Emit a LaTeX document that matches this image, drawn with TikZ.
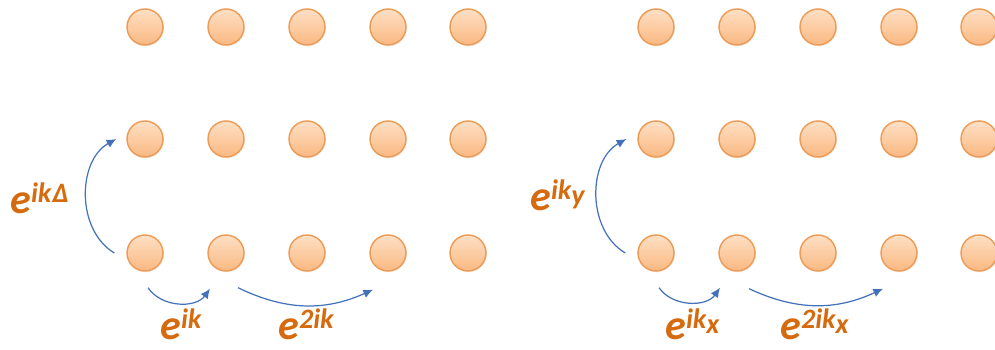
\documentclass[tikz,border=0pt]{standalone}
\usepackage{fontspec}
\setmainfont{Carlito}
\usetikzlibrary{arrows.meta, positioning, shadows}
\definecolor{dottop}{RGB}{254,224,196}
\definecolor{dotbottom}{RGB}{250,184,130}
\definecolor{dotedge}{RGB}{236,154,84}
\definecolor{hopblue}{RGB}{68,114,186}
\definecolor{phasecol}{RGB}{214,106,14}
\newcommand{\phs}[1]{e\raisebox{5.8pt}{\fontsize{16}{16}\selectfont #1}}
\newcommand{\lowsub}[1]{\raisebox{-2.5pt}{#1}}
\tikzset{
  site/.style  = {circle, draw=dotedge, line width=0.8pt, top color=dottop,
                  bottom color=dotbottom, minimum size=0.72cm, inner sep=0pt,
                  drop shadow={opacity=0.12, shadow xshift=0.6pt, shadow yshift=-0.8pt}},
  hop/.style   = {-{Latex[length=5.5pt, width=5pt]}, line width=0.7pt, color=hopblue},
  phase/.style = {font=\fontsize{24}{24}\selectfont\bfseries\itshape, color=phasecol,
                  anchor=base west, inner sep=0pt},
}

\begin{document}
\begin{tikzpicture}[x=0.02cm, y=0.02cm]
  \useasboundingbox (0,0) rectangle (995,349);
  % two lattices of sites
  \foreach \r/\y in {1/322, 2/210, 3/96} {
    \foreach \c/\x in {1/145, 2/226, 3/307, 4/388, 5/468} {
      \node[site] (L-\r-\c) at (\x,\y) {};
      \node[site] (R-\r-\c) at (\x+511,\y) {};
    }
  }
  % hops, left lattice
  \draw[hop] ([shift={(-12,0)}]L-3-1.west) to[bend left=60] ([shift={(-10,0)}]L-2-1.west);
  \draw[hop] ([shift={(3,-16)}]L-3-1.south) to[bend right=55] ([shift={(-16,-17)}]L-3-2.south);
  \draw[hop] ([shift={(12,-16)}]L-3-2.south) to[bend right=25] ([shift={(-15,-18)}]L-3-4.south);
  % hops, right lattice
  \draw[hop] ([shift={(-12,0)}]R-3-1.west) to[bend left=60] ([shift={(-11,0)}]R-2-1.west);
  \draw[hop] ([shift={(3,-16)}]R-3-1.south) to[bend right=55] ([shift={(-17,-16)}]R-3-2.south);
  \draw[hop] ([shift={(12,-17)}]R-3-2.south) to[bend right=25] ([shift={(-16,-17)}]R-3-4.south);
  % phase factors
  \node[phase] (ph-d)  at (10,136)  {\phs{ik\kern0.5pt Δ}};
  \node[phase] (ph-1)  at (160,10)  {\phs{ik}};
  \node[phase] (ph-2)  at (278,10)  {\phs{2ik}};
  \node[phase] (ph-y)  at (530,139) {\phs{ik\lowsub{y}}};
  \node[phase] (ph-x1) at (665,10)  {\phs{ik\lowsub{x}}};
  \node[phase] (ph-x2) at (780,10)  {\phs{2ik\lowsub{x}}};
\end{tikzpicture}
\end{document}
